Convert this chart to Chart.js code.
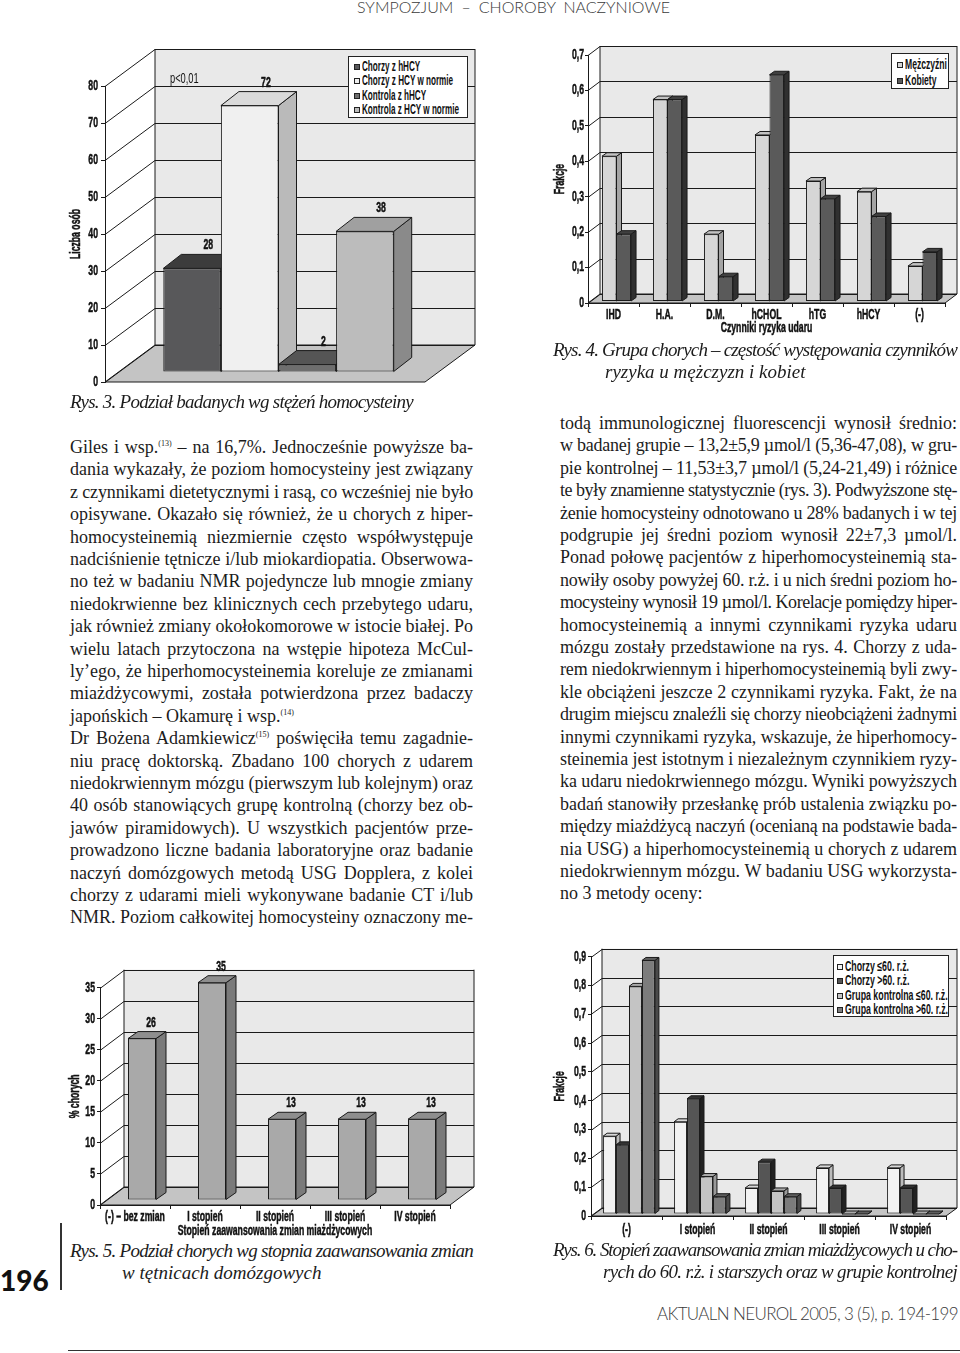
<!DOCTYPE html>
<html lang="pl">
<head>
<meta charset="utf-8">
<title>Sympozjum – choroby naczyniowe</title>
<script src="https://cdn.jsdelivr.net/npm/chart.js@4.4.1/dist/chart.umd.min.js"></script>
<style>
html, body { margin: 0; padding: 0; background: #fff; }
#page { position: relative; width: 960px; height: 1353px; overflow: hidden; background: #fff; }
canvas { position: absolute; }
.ln { position: absolute; white-space: nowrap; font-family: 'Liberation Serif', 'Times New Roman', serif; font-size: 18px; line-height: 22.4px; color: #1c1c1c; }
.cap { font-style: italic; font-size: 19px; line-height: 22px; }
.ln sup { font-size: 8px; vertical-align: 7px; line-height: 0; }
.head { position: absolute; white-space: nowrap; font-family: Lato, 'Open Sans', sans-serif; font-weight: 300; color: #3a3a3a; }
.legend { position: absolute; box-sizing: border-box; border: 1px solid #222; background: #fff; font-family: 'Liberation Sans', Arial, sans-serif; font-weight: bold; font-size: 14px; color: #111; }
.legend div { white-space: nowrap; }
.legend i { display: inline-block; box-sizing: border-box; width: 6px; height: 6px; border: 1px solid #222; margin-right: 2px; vertical-align: 1px; }
.legend span { display: inline-block; transform-origin: left center; }
.note { position: absolute; white-space: nowrap; font-family: 'Liberation Sans', Arial, sans-serif; font-size: 15px; color: #111; transform: scaleX(0.62); transform-origin: left center; }
</style>
</head>
<body>
<div id="page">
  <canvas id="rys3"></canvas>
  <canvas id="rys4"></canvas>
  <canvas id="rys5"></canvas>
  <canvas id="rys6"></canvas>
</div>
<script>
// ---- data ----
// Rys. 3
const rys3Groups = ['Chorzy z hHCY', 'Chorzy z HCY w normie', 'Kontrola z hHCY', 'Kontrola z HCY w normie'];
const rys3Values = [28, 72, 2, 38];

// Rys. 4
const rys4Factors = ['IHD', 'H.A.', 'D.M.', 'hCHOL', 'hTG', 'hHCY', '(-)'];
const rys4Series = ['Mężczyźni', 'Kobiety'];
const rys4Men = [0.41, 0.57, 0.19, 0.47, 0.34, 0.31, 0.10];
const rys4Women = [0.19, 0.57, 0.07, 0.64, 0.29, 0.24, 0.14];

// Rys. 5
const rys5Stages = ['(-) – bez zmian', 'I stopień', 'II stopień', 'III stopień', 'IV stopień'];
const rys5Percent = [26, 35, 13, 13, 13];

// Rys. 6
const rys6Stages = ['(-)', 'I stopień', 'II stopień', 'III stopień', 'IV stopień'];
const rys6Series = ['Chorzy ≤60. r.ż.', 'Chorzy >60. r.ż.', 'Grupa kontrolna ≤60. r.ż.', 'Grupa kontrolna >60. r.ż.'];
const rys6Young = [0.27, 0.32, 0.09, 0.16, 0.16];
const rys6Old = [0.24, 0.40, 0.18, 0.09, 0.09];
const rys6CtrlYoung = [0.79, 0.13, 0.08, 0, 0];
const rys6CtrlOld = [0.88, 0.06, 0.06, 0, 0];

// ---- colours (front, top, side) ----
const rys3Front = ['#58585a', '#f0f0f0', '#6e6e6e', '#bcbcbc'];
const rys3Top = ['#3c3c3c', '#dadada', '#555555', '#a0a0a0'];
const rys3Side = ['#2e2e2e', '#bababa', '#444444', '#8a8a8a'];
const rys4Front = ['#d6d6d6', '#5a5a5a'];
const rys4Top = ['#c2c2c2', '#404040'];
const rys4Side = ['#a4a4a4', '#303030'];
const rys6Front = ['#f2f2f2', '#555555', '#c4c4c4', '#7c7c7c'];
const rys6Top = ['#d8d8d8', '#333333', '#aaaaaa', '#5e5e5e'];
const rys6Side = ['#bcbcbc', '#222222', '#999999', '#4a4a4a'];

const FONT_C = "'Liberation Sans', Arial, sans-serif";
const NARROW = 0.62; // the print uses a condensed face
Chart.defaults.font.family = FONT_C;
Chart.defaults.font.weight = 'bold';
Chart.defaults.font.size = 14;
Chart.defaults.color = '#111';

const comma = v => v === 0 ? '0' : v.toFixed(1).replace('.', ',');

// squeeze canvas text horizontally so it looks like a condensed font
const condensed = {
  id: 'condensed',
  beforeDraw(chart) {
    const ctx = chart.ctx;
    if (ctx._plainFill) return;
    const plain = ctx.fillText;
    const plainStroke = ctx.strokeText;
    ctx._plainFill = plain;
    ctx.fillText = function (text, x, y, maxWidth) {
      this.save();
      this.translate(x, y);
      this.scale(NARROW, 1);
      this.lineWidth = 0.5;
      this.strokeStyle = this.fillStyle;
      if (maxWidth === undefined) {
        plain.call(this, text, 0, 0);
        plainStroke.call(this, text, 0, 0);
      } else {
        plain.call(this, text, 0, 0, maxWidth / NARROW);
        plainStroke.call(this, text, 0, 0, maxWidth / NARROW);
      }
      this.restore();
    };
  }
};

// 3d look: back wall, floor, slanted grid, bar depth
const depth3d = {
  id: 'depth3d',
  beforeDraw(chart, args, o) {
    const ctx = chart.ctx, a = chart.chartArea, y = chart.scales.y;
    ctx.save();
    ctx.lineWidth = 1;
    ctx.strokeStyle = '#1a1a1a';
    ctx.fillStyle = o.wall;
    ctx.fillRect(a.left + o.dx, a.top - o.dy, a.right - a.left, a.bottom - a.top);
    ctx.beginPath();
    ctx.moveTo(a.left, a.bottom);
    ctx.lineTo(a.right, a.bottom);
    ctx.lineTo(a.right + o.dx, a.bottom - o.dy);
    ctx.lineTo(a.left + o.dx, a.bottom - o.dy);
    ctx.closePath();
    ctx.fillStyle = o.floor;
    ctx.fill();
    ctx.stroke();
    ctx.beginPath();
    y.ticks.forEach(t => {
      const py = Math.round(y.getPixelForValue(t.value)) + 0.5;
      ctx.moveTo(a.left, py);
      ctx.lineTo(a.left + o.dx, py - o.dy);
      ctx.lineTo(a.right + o.dx, py - o.dy);
    });
    ctx.moveTo(a.left + o.dx, a.top - o.dy);
    ctx.lineTo(a.left + o.dx, a.bottom - o.dy);
    ctx.moveTo(a.right + o.dx, a.top - o.dy);
    ctx.lineTo(a.right + o.dx, a.bottom - o.dy);
    ctx.stroke();
    ctx.restore();
  },
  beforeDatasetsDraw(chart, args, o) {
    const ctx = chart.ctx;
    ctx.save();
    ctx.translate(o.tx, -o.ty);
    const bars = [];
    chart.data.datasets.forEach((ds, i) => {
      chart.getDatasetMeta(i).data.forEach(el => bars.push({ el: el, ds: ds }));
    });
    bars.sort((p, q) => p.el.x - q.el.x);
    ctx.lineWidth = 1;
    ctx.strokeStyle = '#1a1a1a';
    ctx.lineJoin = 'round';
    const poly = (pts, fill) => {
      ctx.beginPath();
      pts.forEach((p, k) => k ? ctx.lineTo(p[0], p[1]) : ctx.moveTo(p[0], p[1]));
      ctx.closePath();
      ctx.fillStyle = fill;
      ctx.fill();
      ctx.stroke();
    };
    bars.forEach(b => {
      const el = b.el;
      const l = el.x - el.width / 2, r = el.x + el.width / 2;
      poly([[r, el.y], [r + o.bx, el.y - o.by], [r + o.bx, el.base - o.by], [r, el.base]], b.ds.sideColor);
      poly([[l, el.y], [r, el.y], [r + o.bx, el.y - o.by], [l + o.bx, el.y - o.by]], b.ds.topColor);
    });
  },
  afterDatasetsDraw(chart, args, o) {
    const ctx = chart.ctx;
    if (o.labels) {
      ctx.font = 'bold 14px ' + FONT_C;
      ctx.fillStyle = '#111';
      ctx.textAlign = 'center';
      ctx.textBaseline = 'alphabetic';
      chart.data.datasets.forEach((ds, i) => {
        chart.getDatasetMeta(i).data.forEach((el, j) => {
          ctx.fillText(String(ds.data[j]), el.x + o.bx * 0.9, el.y - o.by - 5);
        });
      });
    }
    ctx.restore();
  }
};

function yAxis(s) {
  return {
    min: 0, max: s.max,
    ticks: { stepSize: s.step, padding: s.pad, callback: s.fmt || (v => v) },
    grid: { drawOnChartArea: false, tickLength: s.tick, color: '#1a1a1a' },
    border: { color: '#1a1a1a' },
    title: { display: true, text: s.title, padding: { top: s.tp, bottom: 0 } },
    afterFit: sc => { sc.width = s.w; }
  };
}

function xAxis(s) {
  return {
    ticks: { autoSkip: false, maxRotation: 0, minRotation: 0, padding: s.pad },
    grid: { drawOnChartArea: false, tickLength: 4, color: '#1a1a1a', offset: true },
    border: { color: '#1a1a1a' },
    title: s.title ? { display: true, text: s.title, padding: { top: 0, bottom: s.tb } } : { display: false },
    afterFit: sc => { sc.height = s.h; }
  };
}

function setCanvas(id, x, y, w, h) {
  const c = document.getElementById(id);
  c.width = w; c.height = h;
  c.style.left = x + 'px'; c.style.top = y + 'px';
  return c;
}

// Rys. 3
new Chart(setCanvas('rys3', 50, 40, 440, 360), {
  type: 'bar',
  data: {
    labels: [''],
    datasets: rys3Groups.map((g, i) => ({
      label: g, data: [rys3Values[i]],
      backgroundColor: rys3Front[i], topColor: rys3Top[i], sideColor: rys3Side[i],
      borderColor: '#1a1a1a', borderWidth: 1, borderSkipped: false,
      barPercentage: 1, categoryPercentage: 0.72
    }))
  },
  options: {
    responsive: false, animation: false,
    layout: { padding: { left: 0, top: 46, right: 65, bottom: 18 } },
    plugins: {
      legend: { display: false }, tooltip: { enabled: false },
      depth3d: { dx: 50, dy: 37, tx: 13.5, ty: 10, bx: 18, by: 14, wall: '#e9e9e9', floor: '#c4c4c4', labels: true }
    },
    scales: {
      x: { display: false },
      y: yAxis({ max: 80, step: 10, title: 'Liczba osób', w: 55, tp: 17.6, tick: 4, pad: 3 })
    }
  },
  plugins: [condensed, depth3d]
});

// Rys. 4
const rys4Data = [rys4Men, rys4Women];
new Chart(setCanvas('rys4', 540, 40, 420, 300), {
  type: 'bar',
  data: {
    labels: rys4Factors,
    datasets: rys4Series.map((s, i) => ({
      label: s, data: rys4Data[i],
      backgroundColor: rys4Front[i], topColor: rys4Top[i], sideColor: rys4Side[i],
      borderColor: '#1a1a1a', borderWidth: 1, borderSkipped: false,
      barPercentage: 1, categoryPercentage: 0.57
    }))
  },
  options: {
    responsive: false, animation: false,
    layout: { padding: { left: 0, top: 15, right: 15, bottom: 0 } },
    plugins: {
      legend: { display: false }, tooltip: { enabled: false },
      depth3d: { dx: 12, dy: 9, tx: 3, ty: 1.5, bx: 5, by: 3.5, wall: '#e9e9e9', floor: '#c4c4c4', labels: false }
    },
    scales: {
      x: xAxis({ h: 37, pad: 0, title: 'Czynniki ryzyka udaru', tb: 3 }),
      y: yAxis({ max: 0.7, step: 0.1, title: 'Frakcje', w: 48, tp: 11.6, tick: 3, pad: 1, fmt: comma })
    }
  },
  plugins: [condensed, depth3d]
});

// Rys. 5
new Chart(setCanvas('rys5', 50, 950, 440, 290), {
  type: 'bar',
  data: {
    labels: rys5Stages,
    datasets: [{
      label: '% chorych', data: rys5Percent,
      backgroundColor: '#a9a9a9', topColor: '#8e8e8e', sideColor: '#7a7a7a',
      borderColor: '#1a1a1a', borderWidth: 1, borderSkipped: false,
      barPercentage: 0.4, categoryPercentage: 1
    }]
  },
  options: {
    responsive: false, animation: false,
    layout: { padding: { left: 0, top: 37.7, right: 40, bottom: 0 } },
    plugins: {
      legend: { display: false }, tooltip: { enabled: false },
      depth3d: { dx: 24, dy: 18, tx: 7, ty: 5, bx: 10, by: 7, wall: '#e9e9e9', floor: '#c4c4c4', labels: true }
    },
    scales: {
      x: xAxis({ h: 35, pad: 0, title: 'Stopień zaawansowania zmian miażdżycowych', tb: 0 }),
      y: yAxis({ max: 35, step: 5, title: '% chorych', w: 50, tp: 16.6, tick: 3, pad: 2 })
    }
  },
  plugins: [condensed, depth3d]
});

// Rys. 6
const rys6Data = [rys6Young, rys6Old, rys6CtrlYoung, rys6CtrlOld];
new Chart(setCanvas('rys6', 540, 945, 420, 295), {
  type: 'bar',
  data: {
    labels: rys6Stages,
    datasets: rys6Series.map((s, i) => ({
      label: s, data: rys6Data[i],
      backgroundColor: rys6Front[i], topColor: rys6Top[i], sideColor: rys6Side[i],
      borderColor: '#1a1a1a', borderWidth: 1, borderSkipped: false,
      barPercentage: 1, categoryPercentage: 0.73
    }))
  },
  options: {
    responsive: false, animation: false,
    layout: { padding: { left: 0, top: 11.7, right: 14, bottom: 0 } },
    plugins: {
      legend: { display: false }, tooltip: { enabled: false },
      depth3d: { dx: 11, dy: 8, tx: 2.5, ty: 2, bx: 4, by: 3, wall: '#e9e9e9', floor: '#c4c4c4', labels: false }
    },
    scales: {
      x: xAxis({ h: 24, pad: 2 }),
      y: yAxis({ max: 0.9, step: 0.1, title: 'Frakcje', w: 51, tp: 11.6, tick: 3, pad: 2, fmt: comma })
    }
  },
  plugins: [condensed, depth3d]
});

// ---- legends and notes ----
const page = document.getElementById('page');

function legend(x, y, w, h, lh, padL, padT, names, colors, target) {
  const box = document.createElement('div');
  box.className = 'legend';
  Object.assign(box.style, { left: x + 'px', top: y + 'px', width: w + 'px', height: h + 'px', paddingLeft: padL + 'px', paddingTop: padT + 'px' });
  names.forEach((n, i) => {
    const row = document.createElement('div');
    row.style.height = lh + 'px';
    row.style.lineHeight = lh + 'px';
    row.innerHTML = '<i style="background:' + colors[i] + '"></i><span>' + n + '</span>';
    box.appendChild(row);
  });
  page.appendChild(box);
  const spans = box.querySelectorAll('span');
  let max = 0;
  spans.forEach(s => { max = Math.max(max, s.getBoundingClientRect().width); });
  spans.forEach(s => { s.style.transform = 'scaleX(' + (target / max) + ')'; });
}
legend(348, 56, 120, 62, 14.3, 5, 2, rys3Groups, rys3Front, 97);
legend(891, 53, 58, 36, 16, 5, 2, rys4Series, rys4Front, 42);
legend(833, 955, 116, 62, 14.3, 3, 3, rys6Series, rys6Front, 103);

const pNote = document.createElement('div');
pNote.className = 'note';
pNote.style.left = '170px'; pNote.style.top = '69px';
pNote.textContent = 'p<0,01';
page.appendChild(pNote);

// ---- text ----
const leftCol = [
  ['Giles i wsp.<sup>(13)</sup> – na 16,7%. Jednocześnie powyższe ba-'],
  ['dania wykazały, że poziom homocysteiny jest związany'],
  ['z czynnikami dietetycznymi i rasą, co wcześniej nie było'],
  ['opisywane. Okazało się również, że u chorych z hiper-'],
  ['homocysteinemią niezmiernie często współwystępuje'],
  ['nadciśnienie tętnicze i/lub miokardiopatia. Obserwowa-'],
  ['no też w badaniu NMR pojedyncze lub mnogie zmiany'],
  ['niedokrwienne bez klinicznych cech przebytego udaru,'],
  ['jak również zmiany okołokomorowe w istocie białej. Po'],
  ['wielu latach przytoczona na wstępie hipoteza McCul-'],
  ['ly’ego, że hiperhomocysteinemia koreluje ze zmianami'],
  ['miażdżycowymi, została potwierdzona przez badaczy'],
  ['japońskich – Okamurę i wsp.<sup>(14)</sup>', 0],
  ['Dr Bożena Adamkiewicz<sup>(15)</sup> poświęciła temu zagadnie-'],
  ['niu pracę doktorską. Zbadano 100 chorych z udarem'],
  ['niedokrwiennym mózgu (pierwszym lub kolejnym) oraz'],
  ['40 osób stanowiących grupę kontrolną (chorzy bez ob-'],
  ['jawów piramidowych). U wszystkich pacjentów prze-'],
  ['prowadzono liczne badania laboratoryjne oraz badanie'],
  ['naczyń domózgowych metodą USG Dopplera, z kolei'],
  ['chorzy z udarami mieli wykonywane badanie CT i/lub'],
  ['NMR. Poziom całkowitej homocysteiny oznaczony me-']
];
const rightCol = [
  ['todą immunologicznej fluorescencji wynosił średnio:'],
  ['w badanej grupie – 13,2±5,9 µmol/l (5,36-47,08), w gru-'],
  ['pie kontrolnej – 11,53±3,7 µmol/l (5,24-21,49) i różnice'],
  ['te były znamienne statystycznie (rys. 3). Podwyższone stę-'],
  ['żenie homocysteiny odnotowano u 28% badanych i w tej'],
  ['podgrupie jej średni poziom wynosił 22±7,3 µmol/l.'],
  ['Ponad połowę pacjentów z hiperhomocysteinemią sta-'],
  ['nowiły osoby powyżej 60. r.ż. i u nich średni poziom ho-'],
  ['mocysteiny wynosił 19 µmol/l. Korelacje pomiędzy hiper-'],
  ['homocysteinemią a innymi czynnikami ryzyka udaru'],
  ['mózgu zostały przedstawione na rys. 4. Chorzy z uda-'],
  ['rem niedokrwiennym i hiperhomocysteinemią byli zwy-'],
  ['kle obciążeni jeszcze 2 czynnikami ryzyka. Fakt, że na'],
  ['drugim miejscu znaleźli się chorzy nieobciążeni żadnymi'],
  ['innymi czynnikami ryzyka, wskazuje, że hiperhomocy-'],
  ['steinemia jest istotnym i niezależnym czynnikiem ryzy-'],
  ['ka udaru niedokrwiennego mózgu. Wyniki powyższych'],
  ['badań stanowiły przesłankę prób ustalenia związku po-'],
  ['między miażdżycą naczyń (ocenianą na podstawie bada-'],
  ['nia USG) a hiperhomocysteinemią u chorych z udarem'],
  ['niedokrwiennym mózgu. W badaniu USG wykorzysta-'],
  ['no 3 metody oceny:', 0]
];

function fitLine(el, width) {
  const natural = el.getBoundingClientRect().width;
  const extra = width - natural;
  const txt = el.textContent;
  const spaces = (txt.match(/ /g) || []).length;
  if (extra >= 0 && spaces > 0) el.style.wordSpacing = (extra / spaces) + 'px';
  else el.style.letterSpacing = (extra / txt.length) + 'px';
}

function addLine(html, cls, x, y, width) {
  const d = document.createElement('div');
  d.className = cls;
  d.style.left = x + 'px';
  d.style.top = y + 'px';
  d.innerHTML = html;
  page.appendChild(d);
  if (width) fitLine(d, width);
  return d;
}

leftCol.forEach((ln, i) => addLine(ln[0], 'ln', 70, 436 + i * 22.4, ln[1] === undefined ? 403 : ln[1]));
rightCol.forEach((ln, i) => addLine(ln[0], 'ln', 560, 412 + i * 22.4, ln[1] === undefined ? 397 : ln[1]));

// captions
addLine('Rys. 3. Podział badanych wg stężeń homocysteiny', 'ln cap', 70, 391, 343);
addLine('Rys. 4. Grupa chorych – częstość występowania czynników', 'ln cap', 553, 339, 404);
addLine('ryzyka u mężczyzn i kobiet', 'ln cap', 605, 361, 0);
addLine('Rys. 5. Podział chorych wg stopnia zaawansowania zmian', 'ln cap', 70, 1240, 403);
addLine('w tętnicach domózgowych', 'ln cap', 122, 1262, 0);
addLine('Rys. 6. Stopień zaawansowania zmian miażdżycowych u cho-', 'ln cap', 553, 1239, 404);
addLine('rych do 60. r.ż. i starszych oraz w grupie kontrolnej', 'ln cap', 603, 1261, 354);

// running head and foot
const head = addLine('SYMPOZJUM – CHOROBY NACZYNIOWE', 'head', 357, -1, 0);
head.style.fontSize = '16px'; head.style.lineHeight = '16px';
fitLine(head, 313);
const foot = addLine('AKTUALN NEUROL 2005, 3 (5), p. 194-199', 'head', 657, 1305, 0);
foot.style.fontSize = '17px'; foot.style.lineHeight = '17px';
fitLine(foot, 301);
const num = addLine('196', 'head', 0, 1266, 0);
num.style.fontSize = '28px'; num.style.lineHeight = '28px'; num.style.fontWeight = '900'; num.style.color = '#111';

const vline = document.createElement('div');
Object.assign(vline.style, { position: 'absolute', left: '60px', top: '1223px', width: '1.5px', height: '67px', background: '#333' });
page.appendChild(vline);
const hline = document.createElement('div');
Object.assign(hline.style, { position: 'absolute', left: '68px', top: '1350px', width: '892px', height: '1px', background: '#333' });
page.appendChild(hline);
</script>
</body>
</html>
